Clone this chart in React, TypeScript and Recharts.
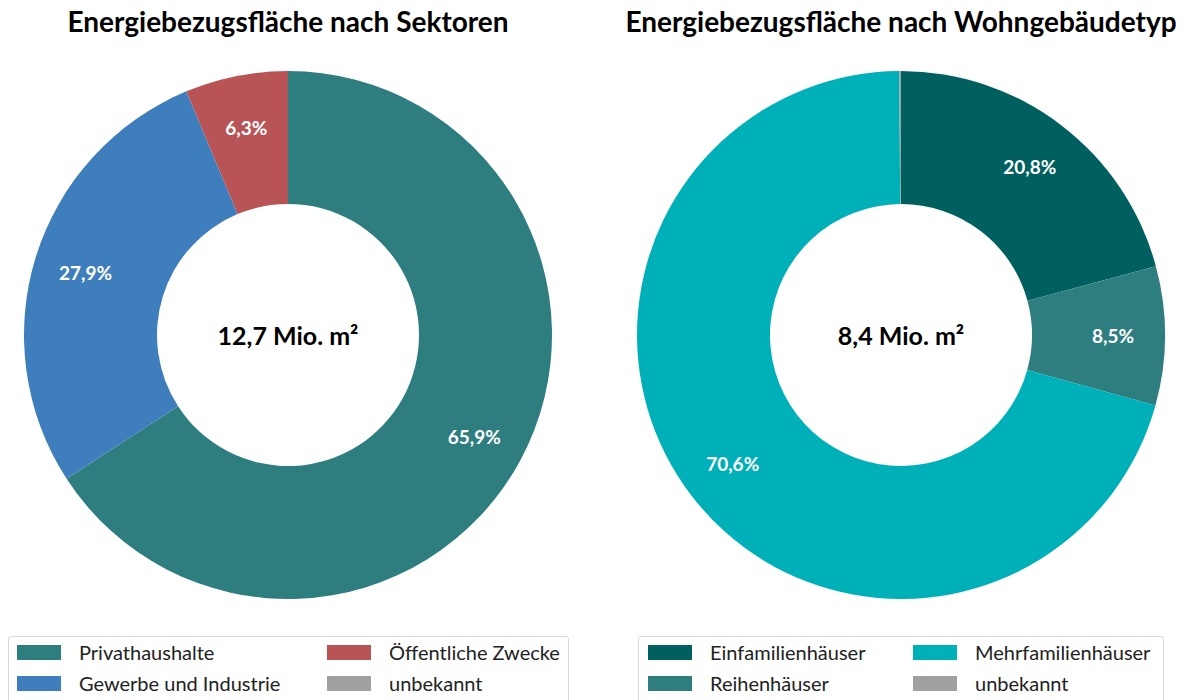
import { PieChart, Pie, Cell } from "recharts";

// Left donut: floor area by sector (%)
const sectorNames = ["Privathaushalte", "Gewerbe und Industrie", "Öffentliche Zwecke", "unbekannt"];
const sectorValues = [65.9, 27.9, 6.3, 0];
const sectorColors = ["#2e7e80", "#3f7ebd", "#b85456", "#a0a0a0"];

// Right donut: residential floor area by building type (%)
const typeNames = ["Einfamilienhäuser", "Reihenhäuser", "Mehrfamilienhäuser", "unbekannt"];
const typeValues = [20.8, 8.5, 70.6, 0.1];
const typeColors = ["#00605f", "#2e7e80", "#00b0b9", "#a0a0a0"];

const FONT = "Lato, 'Open Sans', sans-serif";
const RADIAN = Math.PI / 180;

function pctLabel(props: any) {
  const { cx, cy, midAngle, value } = props;
  if (value < 1) return null;
  const r = 212;
  const x = cx + r * Math.cos(-midAngle * RADIAN);
  const y = cy + r * Math.sin(-midAngle * RADIAN);
  return (
    <text
      x={x}
      y={y}
      fill="#fff"
      textAnchor="middle"
      dominantBaseline="central"
      style={{ fontFamily: FONT, fontWeight: 700, fontSize: 19 }}
    >
      {value.toFixed(1).replace(".", ",")}%
    </text>
  );
}

function Donut({ names, values, colors, total, left }: {
  names: string[]; values: number[]; colors: string[]; total: string; left: number;
}) {
  const data = names.map((n, i) => ({ name: n, value: values[i] }));
  return (
    <div style={{ position: "absolute", left, top: 0, width: 580, height: 620 }}>
      <PieChart width={580} height={620} margin={{ top: 0, right: 0, bottom: 0, left: 0 }}>
        <Pie
          data={data}
          dataKey="value"
          cx={288}
          cy={335}
          innerRadius={131}
          outerRadius={264}
          startAngle={90}
          endAngle={-270}
          stroke="none"
          label={pctLabel}
          labelLine={false}
          isAnimationActive={false}
        >
          {data.map((d, i) => (
            <Cell key={d.name} fill={colors[i]} />
          ))}
        </Pie>
        <text
          x={288}
          y={335}
          textAnchor="middle"
          dominantBaseline="central"
          style={{ fontFamily: FONT, fontWeight: 700, fontSize: 25, fill: "#000" }}
        >
          {total}
        </text>
      </PieChart>
    </div>
  );
}

function LegendBox({ names, colors, left, width, pad, col2 }: {
  names: string[]; colors: string[]; left: number; width: number; pad: number; col2: number;
}) {
  // column-major, 2 rows
  return (
    <div
      style={{
        position: "absolute",
        left,
        top: 636,
        width,
        height: 80,
        border: "1px solid #d9d9d9",
        borderRadius: 3,
        boxSizing: "border-box",
      }}
    >
      {names.map((n, i) => {
        const col = Math.floor(i / 2);
        const row = i % 2;
        const x = col === 0 ? pad : col2;
        return (
          <div
            key={n}
            style={{ position: "absolute", left: x, top: 7 + row * 31, height: 16, display: "flex", alignItems: "center" }}
          >
            <div style={{ width: 44, height: 15, background: colors[i], flex: "none" }} />
            <span
              style={{
                marginLeft: 18,
                fontFamily: FONT,
                fontSize: 20,
                lineHeight: "16px",
                color: "#222",
                whiteSpace: "nowrap",
              }}
            >
              {n}
            </span>
          </div>
        );
      })}
    </div>
  );
}

const titleStyle: React.CSSProperties = {
  position: "absolute",
  top: 4,
  width: 700,
  textAlign: "center",
  fontFamily: FONT,
  fontWeight: 700,
  fontSize: 28,
  color: "#000",
  whiteSpace: "nowrap",
};

export default function App() {
  return (
    <div style={{ position: "fixed", left: 0, top: 0, width: 1187, height: 700, background: "#fff", overflow: "hidden" }}>
      <div style={{ ...titleStyle, left: 288 - 350 }}>Energiebezugsfläche nach Sektoren</div>
      <div style={{ ...titleStyle, left: 901 - 350 }}>Energiebezugsfläche nach Wohngebäudetyp</div>
      <Donut names={sectorNames} values={sectorValues} colors={sectorColors} total="12,7 Mio. m²" left={0} />
      <Donut names={typeNames} values={typeValues} colors={typeColors} total="8,4 Mio. m²" left={613} />
      <LegendBox names={sectorNames} colors={sectorColors} left={8} width={561} pad={8} col2={318} />
      <LegendBox names={typeNames} colors={typeColors} left={638} width={526} pad={9} col2={274} />
    </div>
  );
}
